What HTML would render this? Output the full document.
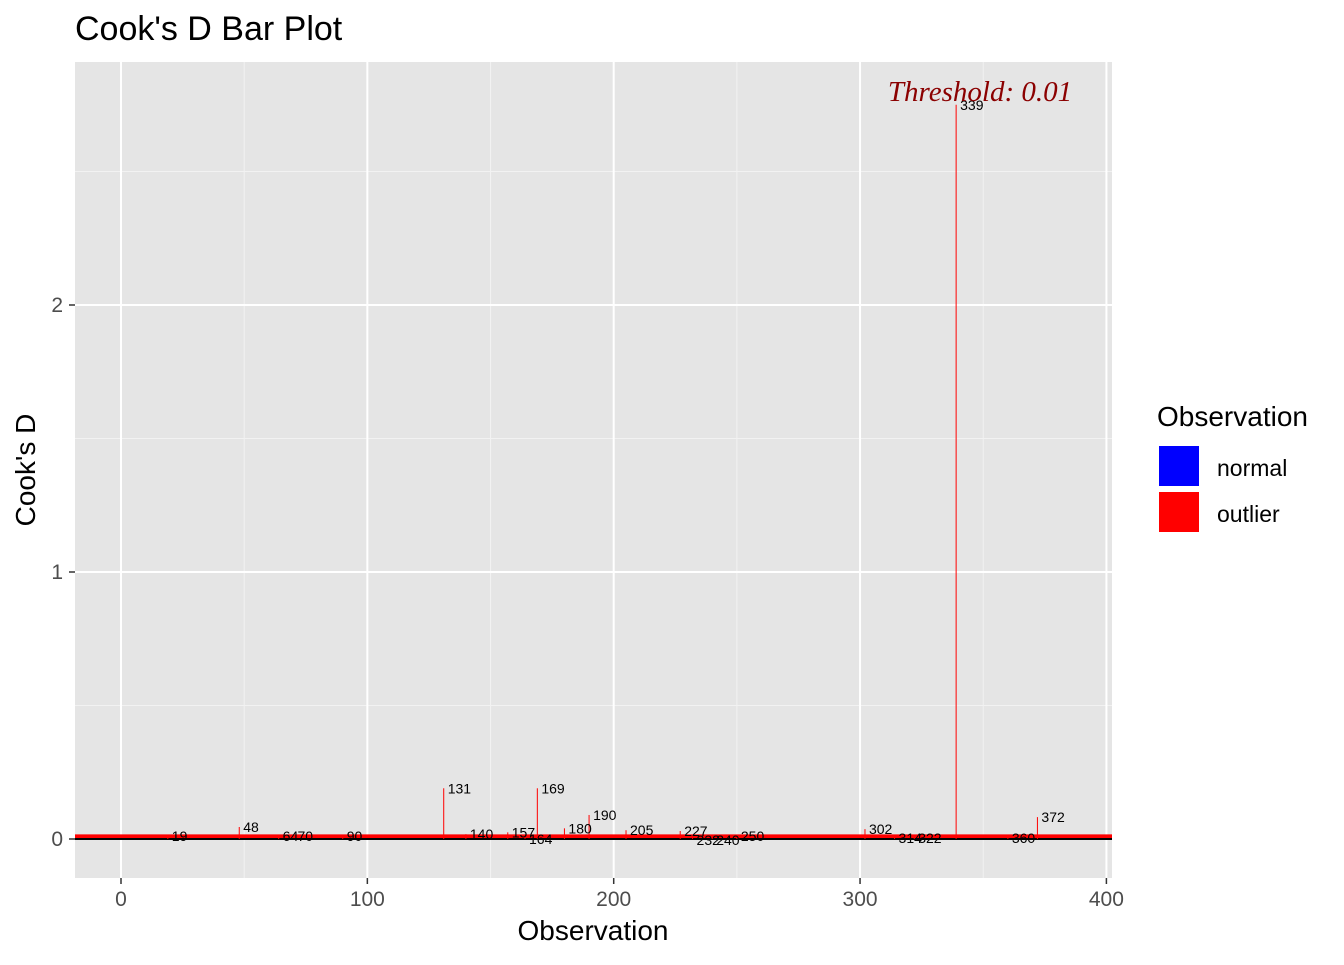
<!DOCTYPE html>
<html><head><meta charset="utf-8"><style>
body{margin:0;background:#fff;}
svg text{font-family:"Liberation Sans",sans-serif;}
svg text.serif{font-family:"Liberation Serif",serif;}
</style></head><body>
<svg width="1344" height="960" xmlns="http://www.w3.org/2000/svg">
<text x="75" y="40" font-size="34" fill="#000">Cook's D Bar Plot</text>
<rect x="75" y="62" width="1037" height="816" fill="#e5e5e5"/>
<g id="grid"></g>
<g id="bars"></g>
<g id="labels"></g>
<g id="axes"></g>
<text class="serif" x="980" y="101" font-style="italic" font-size="29" fill="#8b0000" text-anchor="middle">Threshold: 0.01</text>
<text x="593" y="940" font-size="28" text-anchor="middle">Observation</text>
<text transform="translate(35,470) rotate(-90)" font-size="28" text-anchor="middle">Cook's D</text>
<g>
<text x="1157" y="426" font-size="28">Observation</text>
<rect x="1158" y="445" width="42" height="42" fill="#0000ff" stroke="#fff" stroke-width="2"/>
<text x="1217" y="476" font-size="23">normal</text>
<rect x="1158" y="491" width="42" height="42" fill="#ff0000" stroke="#fff" stroke-width="2"/>
<text x="1217" y="522" font-size="23">outlier</text>
</g>
</svg>
<script>
const obs=[19,48,64,70,90,131,140,157,164,169,180,190,205,227,232,240,250,302,314,322,339,360,372];
const cooks=[0.012,0.045,0.012,0.012,0.012,0.19,0.018,0.025,0.012,0.19,0.04,0.09,0.033,0.03,0.012,0.012,0.012,0.037,0.012,0.012,2.75,0.012,0.082];
const labelDy=[0,0,0,0,0,0,0,0,3,0,0,0,0,0,4,4,0,0,2,2,0,2,0];
const xTicks=[0,100,200,300,400];
const yTicks=[0,1,2];
const threshold=0.01;
const ns="http://www.w3.org/2000/svg";
const X=v=>121+v*2.4635, Y=v=>839-v*267;
function mk(t,a,p){const e=document.createElementNS(ns,t);for(const k in a)e.setAttribute(k,a[k]);document.getElementById(p).appendChild(e);return e;}
[50,150,250,350].forEach(v=>{const l=mk('line',{x1:X(v),x2:X(v),y1:62,y2:878,stroke:'#f2f2f2','stroke-width':1},'grid');
});
[0.5,1.5,2.5].forEach(v=>{const l=mk('line',{x1:75,x2:1112,y1:Y(v),y2:Y(v),stroke:'#f2f2f2','stroke-width':1},'grid');
});
xTicks.forEach(v=>{const l=mk('line',{x1:X(v),x2:X(v),y1:62,y2:878,stroke:'#fff','stroke-width':2},'grid');

const t=mk('line',{x1:X(v),x2:X(v),y1:878,y2:884,stroke:'#333','stroke-width':1.5},'axes');

const tx=mk('text',{x:X(v),y:906,'font-size':21,fill:'#4d4d4d','text-anchor':'middle'},'axes');tx.textContent=v;
});
yTicks.forEach(v=>{const l=mk('line',{x1:75,x2:1112,y1:Y(v),y2:Y(v),stroke:'#fff','stroke-width':2},'grid');

const t=mk('line',{x1:69,x2:75,y1:Y(v),y2:Y(v),stroke:'#333','stroke-width':1.5},'axes');

const tx=mk('text',{x:63,y:Y(v)+7,'font-size':21,fill:'#4d4d4d','text-anchor':'end'},'axes');tx.textContent=v;
});
const th=mk('line',{x1:75,x2:1112,y1:Y(threshold),y2:Y(threshold),stroke:'#ff0000','stroke-width':4},'bars');

const z=mk('line',{x1:75,x2:1112,y1:Y(0),y2:Y(0),stroke:'#000','stroke-width':2},'bars');

obs.forEach((o,i)=>{const b=mk('line',{x1:X(o),x2:X(o),y1:Y(0),y2:Y(cooks[i]),stroke:'#ff0000','stroke-width':1},'bars');

const t=mk('text',{x:X(o)+4,y:Y(cooks[i])+5+labelDy[i],'font-size':14,fill:'#000'},'labels');t.textContent=o;
});
</script>
</body></html>
